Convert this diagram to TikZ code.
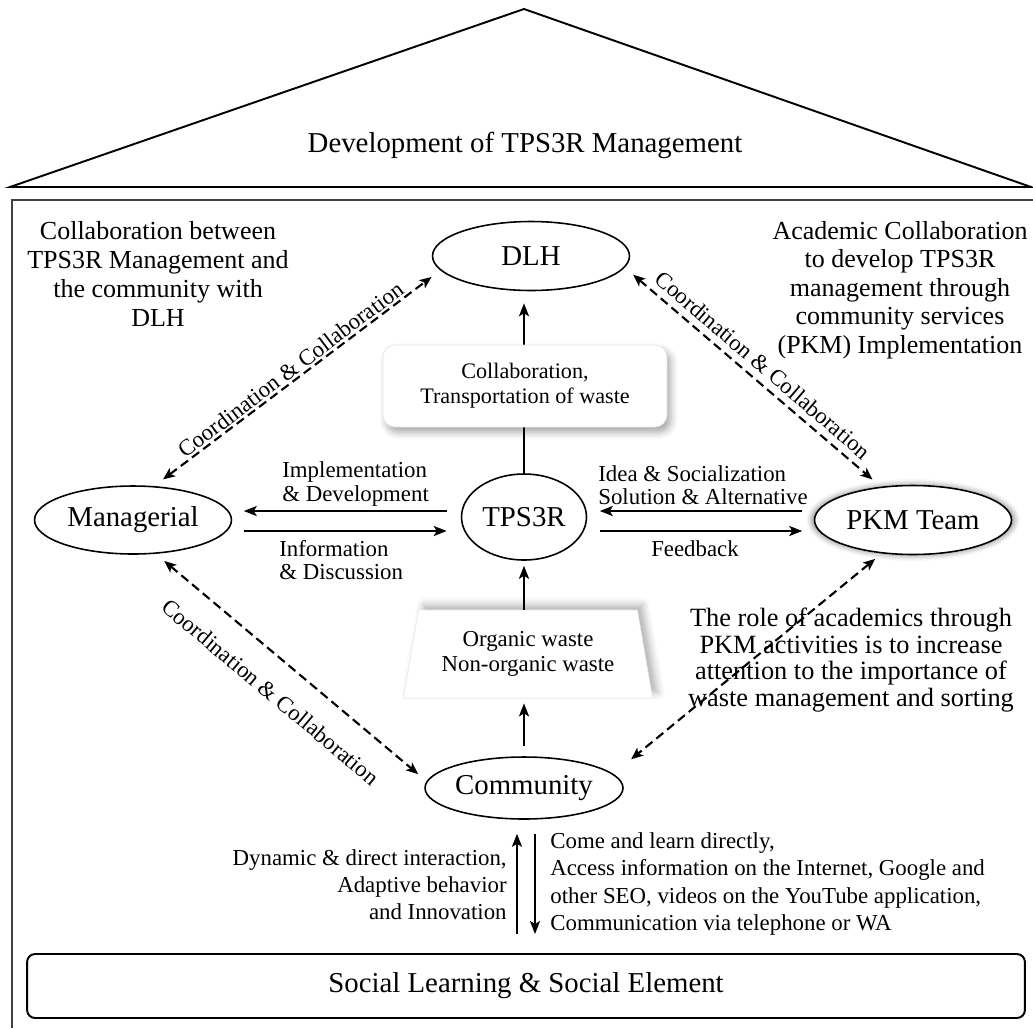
\documentclass[tikz,border=0pt]{standalone}
\usepackage{fontspec}
\setmainfont{Liberation Serif}
\usepackage{tikz}
\usetikzlibrary{arrows.meta, shapes.geometric, shadows.blur}

\begin{document}
\begin{tikzpicture}[x=0.02cm, y=-0.02cm,
        bubble/.style={ellipse, draw, line width=0.9pt, fill=white, minimum width=3.94cm, minimum height=1.38cm, inner sep=0pt, font=\fontsize{16.4}{19}\selectfont},
        link/.style={-{Stealth[length=0.26cm, width=0.2cm, inset=0.06cm]}, line width=1.2pt},
        coop/.style={{Stealth[length=0.24cm, width=0.2cm, inset=0.06cm]}-{Stealth[length=0.24cm, width=0.2cm, inset=0.06cm]}, dash pattern=on 0.18cm off 0.1cm, line width=1.2pt, shorten <=0.22cm, shorten >=0.22cm},
        note/.style={font=\fontsize{14.8}{16.5}\selectfont, align=center, inner sep=0pt},
        tag/.style={font=\fontsize{13}{13.4}\selectfont, align=left, inner sep=0pt},
        slant/.style={font=\fontsize{13}{15}\selectfont, sloped, inner sep=1pt}]
        \useasboundingbox (0,0) rectangle (1033,1028);

        \draw[line width=1.1pt, line join=miter] (10,187) -- (524,9) -- (1031,187) -- cycle;
        \draw[line width=1.7pt] (10,187) -- (1031,187);
        \node[font=\fontsize{16.4}{19}\selectfont] (title) at (525,145) {Development of TPS3R Management};
        \draw[black!75, line width=0.7pt] (12,1028) -- (12,200) -- (1033,200);

        \node[bubble] (dlh) at (531,256) {DLH};
        \node[bubble, minimum height=1.36cm] (mng) at (133,520) {Managerial};
        \node[bubble, minimum width=2.5cm, minimum height=1.72cm] (tps) at (524,517) {TPS3R};
        \node[bubble, blur shadow={shadow xshift=0pt, shadow yshift=0pt, shadow scale=1.03, shadow blur radius=3pt, shadow opacity=45}] (pkm) at (913,520) {PKM Team};
        \node[bubble, minimum width=3.96cm, minimum height=1.24cm] (cmty) at (524,788) {Community};

        \node[trapezium, trapezium left angle=75, trapezium right angle=75, trapezium stretches body, minimum width=4.98cm, minimum height=1.76cm, fill=white, draw=black!8, blur shadow={shadow xshift=3pt, shadow yshift=3pt, shadow blur radius=4pt, shadow opacity=30}, font=\fontsize{13}{14}\selectfont, align=center] (waste) at (528,654) {Organic waste\\Non-organic waste};
        \node[draw, line width=1.1pt, rounded corners=0.16cm, minimum width=19.96cm, minimum height=1.28cm, font=\fontsize{16.4}{19}\selectfont] (base) at (526,986) {Social Learning \& Social Element};

        \draw[link, shorten >=0.24cm] (tps.north) -- (tps.north |- dlh.south);
        \node[draw=black!10, fill=white, rounded corners=0.24cm, minimum width=5.68cm, minimum height=1.64cm, align=center, font=\fontsize{12.6}{14.2}\selectfont, blur shadow={shadow xshift=2pt, shadow yshift=-3pt, shadow blur radius=4pt, shadow opacity=35}] (haul) at (525,386) {Collaboration,\\Transportation of waste};

        \draw[link, shorten >=0.1cm] (waste.north -| tps.south) -- (tps.south);
        \draw[link, shorten <=0.2cm, shorten >=0.1cm] (cmty.north) -- (cmty.north |- waste.south);

        \draw[link, shorten <=0.28cm, shorten >=0.23cm] ([yshift=0.18cm]mng.east -| tps.west) -- ([yshift=0.18cm]mng.east);
        \draw[link, shorten <=0.23cm, shorten >=0.28cm] ([yshift=-0.22cm]mng.east) -- ([yshift=-0.22cm]mng.east -| tps.west);
        \draw[link, shorten <=0.23cm, shorten >=0.25cm] ([yshift=0.18cm]pkm.west) -- ([yshift=0.18cm]pkm.west -| tps.east);
        \draw[link, shorten <=0.25cm, shorten >=0.23cm] ([yshift=-0.22cm]pkm.west -| tps.east) -- ([yshift=-0.22cm]pkm.west);

        \node[tag, anchor=west] (impl) at (282,484) {Implementation\\\& Development};
        \node[tag, anchor=west] (info) at (279,560) {Information\\\& Discussion};
        \node[tag, anchor=west] (idea) at (598,485) {Idea \& Socialization\\Solution \& Alternative};
        \node[tag] (fdbk) at (695,549) {Feedback};

        \draw[coop] (mng.58) -- node[slant, above] {Coordination \& Collaboration} (dlh.189);
        \draw[coop] (dlh.-7) -- node[slant, above=0.1cm] {Coordination \& Collaboration} (pkm.134);
        \draw[coop] (mng.-56) -- node[slant, below=0.42cm] {Coordination \& Collaboration} (cmty.176);
        \draw[coop, shorten <=0.17cm, shorten >=0.46cm] (pkm.-133) -- (cmty.9);

        \node[note] (mgmtnote) at (158,274) {Collaboration between\\TPS3R Management and\\the community with\\DLH};
        \node[note, font=\fontsize{14.8}{16.2}\selectfont] (pkmnote) at (900,290) {Academic Collaboration\\to develop TPS3R\\management through\\community services\\(PKM) Implementation};
        \node[note, font=\fontsize{15}{15.2}\selectfont] (rolenote) at (851,660) {The role of academics through\\PKM activities is to increase\\attention to the importance of\\waste management and sorting};

        \draw[link, shorten <=0.38cm, shorten >=0.28cm] ([xshift=-0.14cm]cmty.south |- base.north) -- ([xshift=-0.14cm]cmty.south);
        \draw[link, shorten <=0.28cm, shorten >=0.38cm] ([xshift=0.22cm]cmty.south) -- ([xshift=0.22cm]cmty.south |- base.north);
        \node[tag, align=right, font=\fontsize{13}{15.4}\selectfont, anchor=east] (habit) at (507,885) {Dynamic \& direct interaction,\\Adaptive behavior\\and Innovation};
        \node[tag, font=\fontsize{13}{15.4}\selectfont, anchor=west] (channel) at (550,884) {Come and learn directly,\\Access information on the Internet, Google and\\other SEO, videos on the YouTube application,\\Communication via telephone or WA};
    \end{tikzpicture}
\end{document}
